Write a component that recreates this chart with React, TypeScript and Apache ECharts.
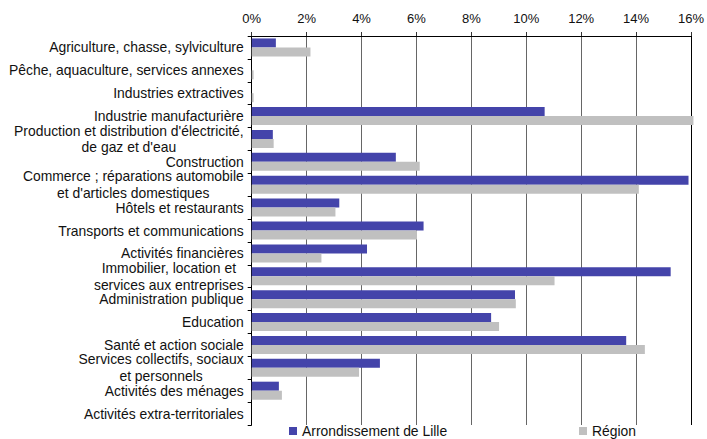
import React, { useEffect, useRef } from "react";
import * as echarts from "echarts";

const categories = [
  "Agriculture, chasse, sylviculture",
  "Pêche, aquaculture, services annexes",
  "Industries extractives",
  "Industrie manufacturière",
  "Production et distribution d'électricité,\nde gaz et d'eau",
  "Construction",
  "Commerce ; réparations automobile\net d'articles domestiques",
  "Hôtels et restaurants",
  "Transports et communications",
  "Activités financières",
  "Immobilier, location et\nservices aux entreprises",
  "Administration publique",
  "Education",
  "Santé et action sociale",
  "Services collectifs, sociaux\net personnels",
  "Activités des ménages",
  "Activités extra-territoriales",
];

const lilleValues = [0.88, 0, 0, 10.67, 0.77, 5.25, 15.91, 3.19, 6.26, 4.2, 15.26, 9.59, 8.72, 13.64, 4.67, 0.99, 0];
const regionValues = [2.14, 0.07, 0.07, 16.09, 0.8, 6.12, 14.1, 3.05, 6.02, 2.54, 11.03, 9.62, 9.01, 14.32, 3.91, 1.1, 0];

const seriesNames = ["Arrondissement de Lille", "Région"];
const xTicks = { min: 0, max: 16, interval: 2 };

const FONT = "'Liberation Sans', Arial, Helvetica, sans-serif";

export default function App() {
  const ref = useRef<HTMLDivElement>(null);
  useEffect(() => {
    if (!ref.current) return;
    const chart = echarts.init(ref.current, null, { renderer: "svg" });
    const legendText = { fontFamily: FONT, fontSize: 13.9, lineHeight: 12, color: "#111" };
    chart.setOption({
      animation: false,
      backgroundColor: "#fff",
      textStyle: { fontFamily: FONT },
      grid: { left: 251.7, right: 12.7, top: 36, bottom: 14, containLabel: false },
      legend: [
        {
          data: [seriesNames[0]],
          left: 289,
          top: 424,
          padding: 0,
          itemWidth: 8,
          itemHeight: 8,
          icon: "rect",
          textStyle: legendText,
        },
        {
          data: [seriesNames[1]],
          left: 579,
          top: 424,
          padding: 0,
          itemWidth: 8,
          itemHeight: 8,
          icon: "rect",
          textStyle: legendText,
        },
      ],
      xAxis: {
        type: "value",
        position: "top",
        min: xTicks.min,
        max: xTicks.max,
        interval: xTicks.interval,
        axisLine: { show: true, onZero: false, lineStyle: { color: "#000", width: 1 } },
        axisTick: { show: true, inside: false, length: 4, lineStyle: { color: "#333" } },
        axisLabel: {
          formatter: "{value}%",
          fontFamily: FONT,
          fontSize: 13,
          color: "#111",
          margin: 11,
        },
        splitLine: {
          show: true,
          lineStyle: {
            color: ["#000", "#666", "#666", "#666", "#666", "#666", "#666", "#666", "#000"],
            width: 1,
          },
        },
      },
      yAxis: {
        type: "category",
        inverse: true,
        data: categories,
        axisLine: { show: true, lineStyle: { color: "#000", width: 1 } },
        axisTick: { show: true, inside: false, length: 4, lineStyle: { color: "#000" } },
        axisLabel: {
          margin: 8,
          interval: 0,
          fontFamily: FONT,
          fontSize: 13.9,
          color: "#111",
          lineHeight: 16.7,
          formatter: (v: string) =>
            v
              .split("\n")
              .map((l) => `{c|${l}}`)
              .join("\n"),
          rich: {
            c: { align: "center", fontFamily: FONT, fontSize: 13.9, lineHeight: 16.7, color: "#111" },
          },
        },
        splitLine: { show: false },
      },
      series: [
        {
          name: seriesNames[0],
          type: "bar",
          data: lilleValues,
          barWidth: 9,
          barGap: "0%",
          clip: false,
          itemStyle: { color: "#4444AA" },
        },
        {
          name: seriesNames[1],
          type: "bar",
          data: regionValues,
          barWidth: 9,
          barGap: "0%",
          clip: false,
          itemStyle: { color: "#C0C0C0" },
        },
      ],
    });
    return () => chart.dispose();
  }, []);
  return (
    <div
      ref={ref}
      style={{ position: "fixed", left: 0, top: 0, width: 707, height: 439 }}
    />
  );
}
